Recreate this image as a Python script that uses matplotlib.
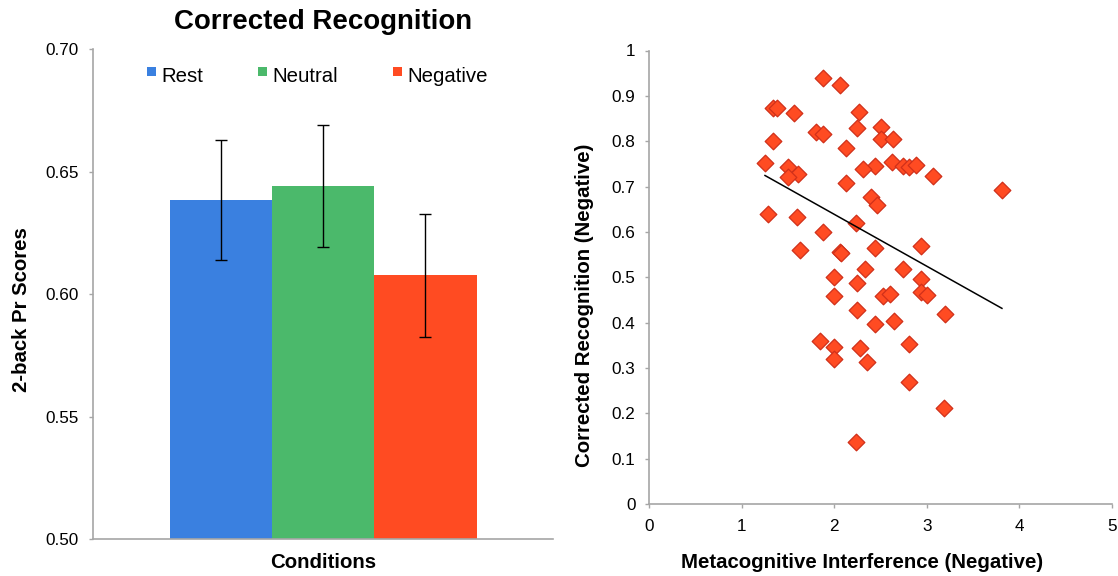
import matplotlib
matplotlib.use("Agg")
import matplotlib.pyplot as plt
from matplotlib.patches import Rectangle
import numpy as np

plt.rcParams['font.family'] = ['Liberation Sans', 'DejaVu Sans']

# ---------------- data ----------------
conditions = ["Rest", "Neutral", "Negative"]
pr_scores = [0.6385, 0.6443, 0.6077]
pr_errors = [0.0245, 0.0248, 0.0250]
bar_colors = ["#3A80E0", "#4BB96B", "#FF4B22"]

meta_interf = [1.875, 2.062, 1.334, 1.377, 1.564, 2.267, 1.802, 1.875, 2.249, 2.502,
               2.502, 2.631, 1.334, 2.127, 2.627, 2.746, 2.811, 2.880, 2.443, 2.314,
               1.251, 1.503, 1.611, 1.503, 3.064, 3.813, 2.127, 2.394, 2.465, 1.286,
               1.600, 2.235, 1.875, 1.629, 2.062, 2.076, 2.440, 2.937, 2.335, 2.746,
               1.997, 2.245, 2.937, 1.997, 2.523, 2.602, 2.937, 3.005, 2.245, 3.197,
               2.440, 2.645, 1.845, 1.997, 2.278, 2.804, 1.997, 2.357, 2.811, 3.189,
               2.235]
corr_recog = [0.940, 0.924, 0.873, 0.873, 0.863, 0.865, 0.821, 0.815, 0.830, 0.831,
              0.806, 0.806, 0.800, 0.784, 0.755, 0.746, 0.744, 0.747, 0.745, 0.738,
              0.751, 0.744, 0.727, 0.722, 0.724, 0.693, 0.709, 0.676, 0.660, 0.639,
              0.634, 0.619, 0.600, 0.560, 0.556, 0.553, 0.564, 0.568, 0.518, 0.518,
              0.501, 0.487, 0.496, 0.459, 0.459, 0.463, 0.468, 0.462, 0.428, 0.419,
              0.397, 0.404, 0.360, 0.347, 0.345, 0.353, 0.319, 0.313, 0.269, 0.211,
              0.136]
trend_slope = -0.1143
trend_intercept = 0.8675

left_yticks = [0.50, 0.55, 0.60, 0.65, 0.70]
right_yticks = [0, 0.1, 0.2, 0.3, 0.4, 0.5, 0.6, 0.7, 0.8, 0.9, 1]
right_xticks = [0, 1, 2, 3, 4, 5]

# ---------------- figure ----------------
W, H = 1118, 576
fig = plt.figure(figsize=(W / 100, H / 100), dpi=100)

def fx(px):
    return px / W

def fy(py):
    return 1 - py / H

spine_col = "#A6A6A6"
tick_fs = 12.3
label_fs = 14.7

# Left bar chart
axL = fig.add_axes([fx(93), fy(539.3), fx(553.3 - 93), (539.3 - 49.3) / H])
centers = [0.2785, 0.5003, 0.7222]
bw = 0.222
axL.bar(centers, pr_scores, width=bw, color=bar_colors, edgecolor="none", zorder=2)
axL.errorbar(centers, pr_scores, yerr=pr_errors, fmt="none", ecolor="black",
             elinewidth=1.0, capsize=4, capthick=1.0, zorder=3)
axL.set_xlim(0, 1)
axL.set_ylim(0.50, 0.70)
axL.set_yticks(left_yticks)
axL.set_yticklabels([f"{v:.2f}" for v in left_yticks])
axL.set_xticks([])
for s in ["top", "right"]:
    axL.spines[s].set_visible(False)
for s in ["left", "bottom"]:
    axL.spines[s].set_color(spine_col)
    axL.spines[s].set_linewidth(1.2)
axL.tick_params(axis="y", direction="out", length=3, width=1, color=spine_col,
                labelsize=tick_fs, pad=7)

# legend (square swatch aligned with cap height, as in the original)
legend_x = [147.3, 258.3, 393.3]
for lx, name, col in zip(legend_x, conditions, bar_colors):
    fig.patches.append(Rectangle((fx(lx), fy(75.9)), fx(8.7), 8.6 / H,
                                 transform=fig.transFigure, facecolor=col,
                                 edgecolor="none"))
    fig.text(fx(lx + 14.3), fy(81.7), name, ha="left", va="baseline",
             fontsize=14.7)

fig.text(fx(323), fy(29), "Corrected Recognition", ha="center", va="baseline",
         fontsize=19.9, fontweight="bold")
fig.text(fx(323), fy(563), "Conditions", ha="center", va="center",
         fontsize=label_fs, fontweight="bold")
fig.text(fx(22), fy(310), "2-back Pr Scores", ha="center", va="center",
         rotation=90, fontsize=label_fs, fontweight="bold")

# Right scatter
axR = fig.add_axes([fx(649.3), fy(504.2), fx(1111.7 - 649.3), (504.2 - 50.5) / H])
axR.scatter(meta_interf, corr_recog, marker="D", s=72, facecolor="#FF4B22",
            edgecolor="#D0301A", linewidth=0.9, zorder=3, clip_on=False)
xs = np.array([min(meta_interf), max(meta_interf)])
axR.plot(xs, trend_intercept + trend_slope * xs, color="black", linewidth=1.1, zorder=4)
axR.set_xlim(0, 5)
axR.set_ylim(0, 1)
axR.set_xticks(right_xticks)
axR.set_xticklabels([str(v) for v in right_xticks])
axR.set_yticks(right_yticks)
axR.set_yticklabels(["0", "0.1", "0.2", "0.3", "0.4", "0.5", "0.6", "0.7", "0.8", "0.9", "1"])
for s in ["top", "right"]:
    axR.spines[s].set_visible(False)
for s in ["left", "bottom"]:
    axR.spines[s].set_color(spine_col)
    axR.spines[s].set_linewidth(1.2)
axR.tick_params(axis="both", direction="out", length=3, width=1, color=spine_col,
                labelsize=tick_fs)
axR.tick_params(axis="y", pad=7)
axR.tick_params(axis="x", pad=8)

fig.text(fx(862), fy(563), "Metacognitive Interference (Negative)", ha="center",
         va="center", fontsize=label_fs, fontweight="bold")
fig.text(fx(585), fy(305), "Corrected Recognition (Negative)", ha="center",
         va="center", rotation=90, fontsize=label_fs, fontweight="bold")

fig.savefig("out.png", dpi=100)
